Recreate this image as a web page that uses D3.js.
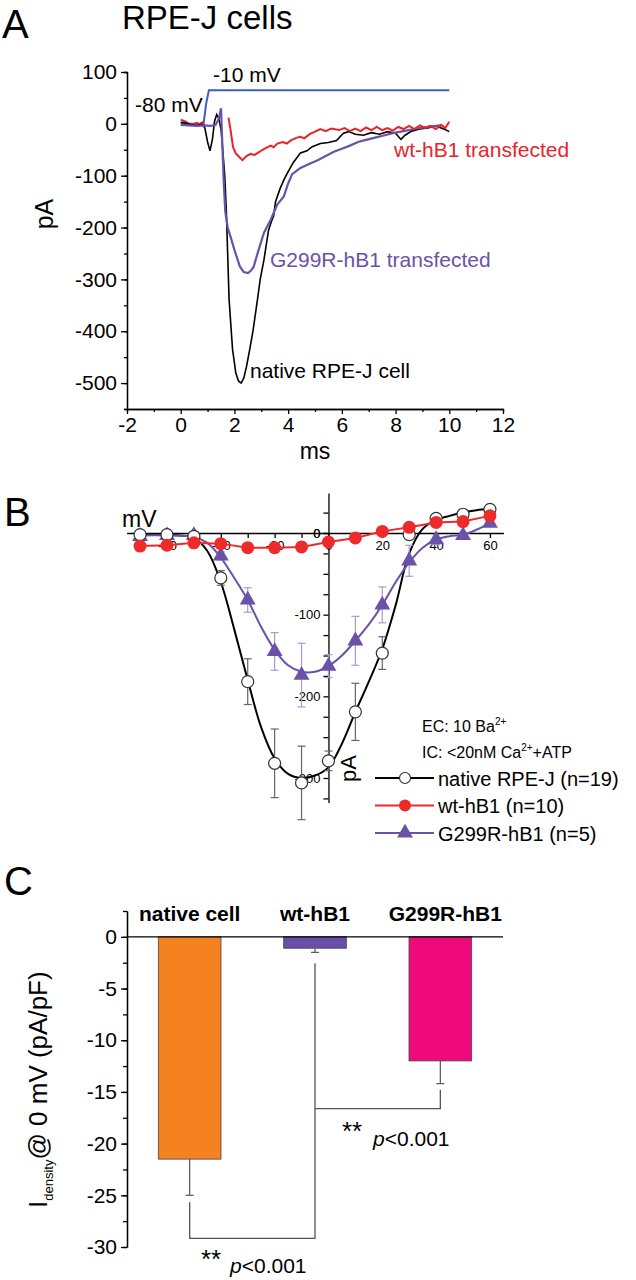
<!DOCTYPE html>
<html><head><meta charset="utf-8">
<script src="https://cdn.jsdelivr.net/npm/d3@7/dist/d3.min.js"></script>
<style>
html,body{margin:0;padding:0;background:#fff;}
svg{display:block;font-family:"Liberation Sans",Arial,sans-serif;}
</style></head><body>
<script>
// ---------- DATA ----------
// Panel A: current traces (time ms, current pA)
const traceNative = [[0,3],[0.2,1],[0.4,-2],[0.6,-3],[0.8,-1],[0.9,-8],[1.0,-35],[1.09,-52],[1.18,-30],[1.26,5],[1.34,18],[1.42,10],[1.5,-10],[1.58,-60],[1.64,-100],[1.7,-170],[1.8,-338],[1.93,-435],[2.05,-480],[2.15,-496],[2.25,-500],[2.35,-490],[2.45,-468],[2.57,-435],[2.69,-400],[2.86,-338],[2.96,-300],[3.1,-262],[3.27,-205],[3.38,-188],[3.46,-178],[3.53,-150],[3.7,-125],[3.84,-108],[4.0,-92],[4.2,-74],[4.46,-56],[4.7,-52],[4.9,-44],[5.2,-38],[5.5,-36],[5.8,-32],[6.06,-18],[6.25,-15],[6.5,-20],[6.8,-22],[7.1,-17],[7.4,-20],[7.7,-15],[8.0,-18],[8.2,-30],[8.35,-22],[8.6,-14],[8.9,-10],[9.2,-8],[9.5,-4],[9.8,-10],[10,-15]];
const traceWtPre = [[0,8],[0.1,6],[0.2,4],[0.3,0],[0.4,-2],[0.5,0],[0.6,2],[0.7,-1],[0.8,3],[0.9,-4]];
const traceWt = [[1.78,12],[1.85,-10],[1.95,-45],[2.05,-57],[2.2,-65],[2.3,-70],[2.45,-62],[2.6,-58],[2.75,-60],[2.9,-55],[3.05,-50],[3.2,-46],[3.35,-42],[3.46,-45],[3.6,-38],[3.8,-35],[3.95,-38],[4.1,-32],[4.3,-27],[4.46,-25],[4.6,-28],[4.8,-20],[5.0,-15],[5.2,-10],[5.4,-14],[5.6,-9],[5.9,-12],[6.1,-8],[6.3,-14],[6.5,-9],[6.7,-14],[6.9,-7],[7.1,-12],[7.3,-6],[7.5,-12],[7.7,-8],[7.9,-13],[8.1,-6],[8.3,-10],[8.5,-4],[8.7,-10],[8.9,-3],[9.1,-8],[9.3,-4],[9.5,-10],[9.7,-2],[9.85,-8],[10,4]];
const traceG299R = [[0,-2],[0.3,-3],[0.6,-4],[0.9,-3],[1.1,-4],[1.3,-2],[1.42,10],[1.5,30],[1.55,-40],[1.6,-110],[1.66,-170],[1.75,-200],[1.88,-222],[2.0,-243],[2.2,-275],[2.35,-286],[2.5,-288],[2.62,-283],[2.72,-275],[2.9,-243],[3.1,-210],[3.35,-185],[3.6,-155],[3.84,-140],[4.0,-115],[4.15,-97],[4.46,-85],[4.8,-77],[5.1,-70],[5.4,-62],[5.7,-54],[6.0,-48],[6.3,-42],[6.6,-35],[6.9,-31],[7.2,-27],[7.6,-22],[7.9,-18],[8.3,-14],[8.7,-10],[9.2,-6],[9.5,-4],[9.7,-3]];
const traceVoltage = [[0,0],[0.85,0],[0.95,40],[1.05,65],[10,65]];
const aYTicks = [100,0,-100,-200,-300,-400,-500];
const aXTicks = [-2,0,2,4,6,8,10,12];

// Panel B: I-V relation (mV, pA)
const ivVoltages = [-70,-60,-50,-40,-30,-20,-10,0,10,20,30,40,50,60];
const ivNative = [-2,-2,-4,-55,-182,-282,-306,-279,-219,-147,-2,18,23,29];
const ivNativeErr = [2,2,2,9,28,42,45,12,35,20,6,4,4,5];
const ivWt = [-16,-15,-12,-13,-18,-18,-17,-11,-6,2,7,13,14,21];
const ivG299R = [-4,-3,-3,-28,-82,-145,-174,-163,-132,-88,-34,-8,-3,12];
const ivG299RErr = [2,2,2,5,15,23,39,14,30,22,19,6,3,4];
const fitNativeV = [-70,-60,-55,-50,-45,-40,-35,-30,-25,-20,-15,-10,-5,0,5,10,15,20,25,30,35,40,45,50,55,60];
const fitNativeI = [-2,-2,-3,-6,-22,-60,-118,-180,-238,-276,-295,-300,-297,-287,-258,-219,-182,-142,-88,-25,5,16,21,25,28,30];
const fitG299RV = [-70,-60,-50,-45,-40,-35,-30,-25,-20,-15,-10,-5,0,5,10,15,20,25,30,35,40,45,50,55,60];
const fitG299RI = [-3,-3,-5,-12,-30,-55,-82,-115,-143,-162,-170,-170,-163,-150,-132,-112,-88,-60,-36,-18,-8,-4,-2,4,12];
const bXTicks = [-60,-40,-20,0,20,40,60];
const bYTicks = [0,-100,-200,-300];

// Panel C: current density at 0 mV (pA/pF)
const cCategories = ["native cell","wt-hB1","G299R-hB1"];
const cValues = [-21.5,-1.1,-12.0];
const cErrors = [3.5,0.4,2.2];
const cYTicks = [0,-5,-10,-15,-20,-25,-30];

// ---------- DRAW ----------
const W=636,H=1280;
const svg=d3.select("body").append("svg").attr("width",W).attr("height",H);
const FONT='"Liberation Sans",Arial,sans-serif';
const txt=(x,y,s,size,opt={})=>{
  const t=svg.append("text").attr("x",x).attr("y",y).attr("font-size",size).attr("fill",opt.fill||"#000").text(s);
  if(opt.anchor)t.attr("text-anchor",opt.anchor);
  if(opt.weight)t.attr("font-weight",opt.weight);
  if(opt.rotate)t.attr("transform",`rotate(${opt.rotate},${x},${y})`);
  return t;
};
function styleAxis(g,fs){
  g.selectAll("path").attr("stroke","#000").attr("stroke-width",1.3);
  g.selectAll("line").attr("stroke","#000").attr("stroke-width",1.3);
  g.selectAll("text").attr("font-family",FONT).attr("font-size",fs).attr("fill","#000");
}

// ===== Panel A =====
const xA=d3.scaleLinear().domain([-2,12]).range([127,503]);
const yA=d3.scaleLinear().domain([-550,100]).range([409,72]);
txt(2,38,"A",40);
txt(122,29,"RPE-J cells",33);
const gA=svg.append("g");
gA.append("g").attr("transform","translate(127,0)")
  .call(d3.axisLeft(yA).tickValues(d3.range(-550,101,50)).tickSize(3).tickFormat(""))
  .call(g=>styleAxis(g,20));
gA.append("g").attr("transform","translate(127,0)")
  .call(d3.axisLeft(yA).tickValues(aYTicks).tickSize(6).tickSizeOuter(0).tickPadding(4).tickFormat(d3.format("d")))
  .call(g=>styleAxis(g,21));
gA.append("g").attr("transform","translate(0,409)")
  .call(d3.axisBottom(xA).tickValues(d3.range(-1,12,2)).tickSize(3).tickFormat(""))
  .call(g=>styleAxis(g,20));
gA.append("g").attr("transform","translate(0,409)")
  .call(d3.axisBottom(xA).tickValues(aXTicks).tickSize(5).tickSizeOuter(0).tickPadding(3).tickFormat(d3.format("d")))
  .call(g=>styleAxis(g,21));
gA.selectAll("text").each(function(){ const s=d3.select(this); s.text(s.text().replace("−","-")); });
txt(315,459,"ms",23,{anchor:"middle"});
txt(53,214,"pA",25,{anchor:"middle",rotate:-90});

const lineA=d3.line().x(d=>xA(d[0])).y(d=>yA(d[1]));
svg.append("path").attr("d",lineA(traceVoltage)).attr("fill","none").attr("stroke","#3d5ccc").attr("stroke-width",2);
svg.append("path").attr("d",lineA(traceWtPre)).attr("fill","none").attr("stroke","#e8242a").attr("stroke-width",2);
svg.append("path").attr("d",lineA(traceNative)).attr("fill","none").attr("stroke","#000").attr("stroke-width",1.6);
svg.append("path").attr("d",lineA(traceG299R)).attr("fill","none").attr("stroke","#6a52a8").attr("stroke-width",2.2);
svg.append("path").attr("d",lineA(traceWt)).attr("fill","none").attr("stroke","#e8242a").attr("stroke-width",2);
txt(213,82,"-10 mV",21);
txt(135,112,"-80 mV",21);
txt(394,157,"wt-hB1 transfected",21,{fill:"#e8242a"});
txt(270,267,"G299R-hB1 transfected",21,{fill:"#6a52a8"});
txt(250,378,"native RPE-J cell",21);

// ===== Panel B =====
const xB=d3.scaleLinear().domain([-75,65]).range([126.6,503.4]);
const yB=d3.scaleLinear().domain([-330,49]).range([802.5,493]);
txt(4,526,"B",40);
const gB=svg.append("g");
gB.append("g").attr("transform",`translate(0,${yB(0)})`)
  .call(d3.axisBottom(xB).tickValues(d3.range(-70,61,10)).tickSize(5).tickSizeOuter(0).tickFormat(d=>bXTicks.includes(d)?String(d):""))
  .call(g=>styleAxis(g,13));
gB.append("g").attr("transform",`translate(${xB(0)},0)`)
  .call(d3.axisLeft(yB).tickValues(d3.range(-325,49,25).concat([0])).tickSize(5).tickSizeOuter(0).tickPadding(3).tickFormat(d=>bYTicks.includes(d)?String(d):""))
  .call(g=>styleAxis(g,13));
gB.selectAll("text").each(function(){ const s=d3.select(this); s.text(s.text().replace("−","-")); });
txt(122,527,"mV",23);
txt(356,782,"pA",22,{rotate:-90});

const lineB=d3.line().x(d=>xB(d[0])).y(d=>yB(d[1]));
const cLine=d3.line().x(d=>xB(d[0])).y(d=>yB(d[1])).curve(d3.curveCatmullRom);
const purple="#6a52a8", red="#ee2b2b";
svg.append("path").attr("d",cLine(fitNativeV.map((v,i)=>[v,fitNativeI[i]]))).attr("fill","none").attr("stroke","#000").attr("stroke-width",2);
svg.append("path").attr("d",cLine(fitG299RV.map((v,i)=>[v,fitG299RI[i]]))).attr("fill","none").attr("stroke",purple).attr("stroke-width",2);
svg.append("path").attr("d",lineB(ivVoltages.map((v,i)=>[v,ivWt[i]]))).attr("fill","none").attr("stroke",red).attr("stroke-width",2);
function errBars(vals,errs,col){
  const g=svg.append("g").attr("stroke",col).attr("stroke-width",1.2);
  ivVoltages.forEach((v,i)=>{
    const x=xB(v),y1=yB(vals[i]+errs[i]),y2=yB(vals[i]-errs[i]);
    g.append("line").attr("x1",x).attr("x2",x).attr("y1",y1).attr("y2",y2);
    g.append("line").attr("x1",x-4).attr("x2",x+4).attr("y1",y1).attr("y2",y1);
    g.append("line").attr("x1",x-4).attr("x2",x+4).attr("y1",y2).attr("y2",y2);
  });
}
errBars(ivNative,ivNativeErr,"#666");
errBars(ivG299R,ivG299RErr,"#a79bd0");
const tri=d3.symbol().type(d3.symbolTriangle).size(110);
svg.append("g").selectAll("path").data(ivVoltages).join("path")
  .attr("d",tri).attr("transform",(v,i)=>`translate(${xB(v)},${yB(ivG299R[i])})`).attr("fill",purple);
svg.append("g").selectAll("circle").data(ivVoltages).join("circle")
  .attr("cx",v=>xB(v)).attr("cy",(v,i)=>yB(ivNative[i])).attr("r",6).attr("fill","#fff").attr("stroke","#333").attr("stroke-width",1.2);
svg.append("g").selectAll("circle").data(ivVoltages).join("circle")
  .attr("cx",v=>xB(v)).attr("cy",(v,i)=>yB(ivWt[i])).attr("r",6.5).attr("fill",red);
const eTxt=txt(422,732,"EC: 10 Ba",16);
eTxt.append("tspan").attr("dy",-7).attr("font-size",10).text("2+");
const iTxt=txt(422,758,"IC: <20nM Ca",16);
iTxt.append("tspan").attr("dy",-7).attr("font-size",10).text("2+");
iTxt.append("tspan").attr("dy",7).text("+ATP");
const legRows=[["native RPE-J (n=19)","#000","circle"],["wt-hB1 (n=10)",red,"dot"],["G299R-hB1 (n=5)",purple,"tri"]];
legRows.forEach((r,i)=>{
  const y=778+i*27.5;
  svg.append("line").attr("x1",375).attr("x2",434).attr("y1",y).attr("y2",y).attr("stroke",r[1]).attr("stroke-width",2);
  if(r[2]==="circle")svg.append("circle").attr("cx",405).attr("cy",y).attr("r",5.5).attr("fill","#fff").attr("stroke","#333").attr("stroke-width",1.2);
  if(r[2]==="dot")svg.append("circle").attr("cx",405).attr("cy",y).attr("r",6).attr("fill",red);
  if(r[2]==="tri")svg.append("path").attr("d",tri).attr("transform",`translate(405,${y})`).attr("fill",purple);
  txt(438,y+7.5,r[0],20);
});

// ===== Panel C =====
const xC=d3.scaleBand().domain(cCategories).range([127,503]).paddingInner(0.5).paddingOuter(0.25);
const yC=d3.scaleLinear().domain([-30,2.5]).range([1247,911]);
txt(4,895,"C",40);
const gC=svg.append("g");
gC.append("g").attr("transform","translate(127,0)")
  .call(d3.axisLeft(yC).tickValues(d3.range(-30,2.6,2.5)).tickSize(4).tickSizeOuter(0).tickFormat(""))
  .call(g=>styleAxis(g,21));
gC.append("g").attr("transform","translate(127,0)")
  .call(d3.axisLeft(yC).tickValues(cYTicks).tickSize(6).tickSizeOuter(0).tickPadding(4).tickFormat(d3.format("d")))
  .call(g=>styleAxis(g,21));
gC.selectAll("text").each(function(){ const s=d3.select(this); s.text(s.text().replace("−","-")); });
const barCols=["#f58220","#6a4fa8","#ee0a7b"];
cCategories.forEach((c,i)=>{
  const x=xC(c)+xC.bandwidth()/2;
  svg.append("line").attr("x1",x).attr("x2",x).attr("y1",yC(cValues[i])).attr("y2",yC(cValues[i]-cErrors[i])).attr("stroke","#555").attr("stroke-width",1.2);
  svg.append("line").attr("x1",x-4).attr("x2",x+4).attr("y1",yC(cValues[i]-cErrors[i])).attr("y2",yC(cValues[i]-cErrors[i])).attr("stroke","#555").attr("stroke-width",1.2);
});
svg.append("g").selectAll("rect").data(cCategories).join("rect")
  .attr("x",c=>xC(c)).attr("width",xC.bandwidth())
  .attr("y",yC(0)).attr("height",(c,i)=>yC(cValues[i])-yC(0))
  .attr("fill",(c,i)=>barCols[i]).attr("stroke","#444").attr("stroke-width",0.8);
svg.append("line").attr("x1",127).attr("x2",503).attr("y1",yC(0)).attr("y2",yC(0)).attr("stroke","#000").attr("stroke-width",1.3);
cCategories.forEach(c=>txt(xC(c)+xC.bandwidth()/2+(c==="G299R-hB1"?5:0),921,c,21,{anchor:"middle",weight:"bold"}));
const cx=i=>xC(cCategories[i])+xC.bandwidth()/2;
const errEnd=i=>yC(cValues[i]-cErrors[i]);
const br=svg.append("g").attr("fill","none").attr("stroke","#555").attr("stroke-width",1.3);
br.append("path").attr("d",`M${cx(0)},${errEnd(0)+7}V${errEnd(0)+43}H${cx(1)}V${errEnd(1)+11}`);
br.append("path").attr("d",`M${cx(2)},${errEnd(2)+6}V${errEnd(2)+25}H${cx(1)}`);
txt(201,1268,"**",26);
const p1=txt(230,1273,"",21); p1.append("tspan").attr("font-style","italic").text("p"); p1.append("tspan").text("<0.001");
txt(342,1140,"**",26);
const p2=txt(373,1146,"",21); p2.append("tspan").attr("font-style","italic").text("p"); p2.append("tspan").text("<0.001");
const yl=svg.append("text").attr("transform","translate(47,1208) rotate(-90)").attr("font-size",26);
yl.append("tspan").text("I");
yl.append("tspan").attr("font-size",13).attr("dy",6).text("density");
yl.append("tspan").attr("dy",-6).text("@ 0 mV (pA/pF)");
</script>
</body></html>
